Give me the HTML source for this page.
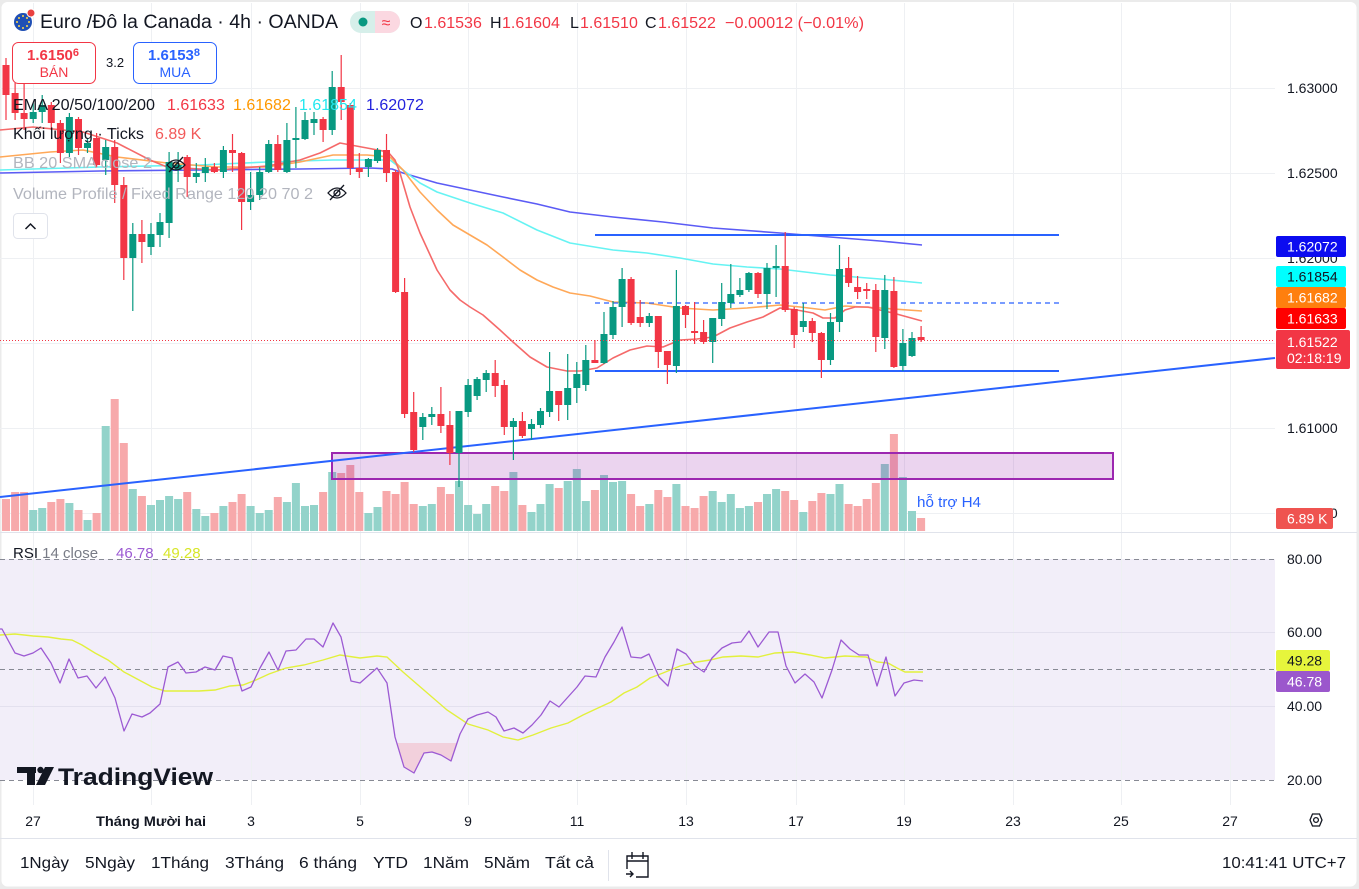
<!DOCTYPE html>
<html><head><meta charset="utf-8"><style>
html,body{margin:0;padding:0;background:#ebebeb;}
svg{display:block;font-family:"Liberation Sans","Noto Sans CJK JP",sans-serif;}
</style></head><body>
<svg width="1359" height="889" viewBox="0 0 1359 889" xmlns="http://www.w3.org/2000/svg">
<rect x="0" y="0" width="1359" height="889" fill="#ebebeb"/>
<rect x="1.5" y="2" width="1355" height="884.5" rx="6" fill="#ffffff"/>

<!-- RSI band -->
<rect x="0" y="559" width="1275" height="221" fill="#f2eef9"/>

<!-- grid -->
<g stroke="#eef0f3" stroke-width="1">
<path d="M0 88.5H1275M0 173.5H1275M0 258.5H1275M0 343.5H1275M0 428.5H1275M0 513.5H1275"/>
<path d="M33.5 3V805M151.5 3V805M251.5 3V805M360.5 3V805M468.5 3V805M577.5 3V805M686.5 3V805M796.5 3V805M904.5 3V805M1013.5 3V805M1121.5 3V805M1230.5 3V805"/>
</g>
<g stroke="#e3e0ee" stroke-width="1"><path d="M0 632.5H1275M0 706.5H1275"/></g>
<g stroke="#878a94" stroke-width="1" stroke-dasharray="5,4"><path d="M0 559.5H1275M0 669.5H1275M0 780.5H1275"/></g>

<!-- pane separators -->
<path d="M0 532.5H1357M0 838.5H1357" stroke="#e0e3eb" stroke-width="1"/>

<!-- volume bars -->
<g fill="#93d3ca">
<rect x="29.2" y="510" width="8" height="21"/><rect x="38.2" y="508" width="8" height="23"/><rect x="65.4" y="503" width="8" height="28"/><rect x="83.5" y="520" width="8" height="11"/><rect x="101.7" y="426" width="8" height="105"/><rect x="128.8" y="489" width="8" height="42"/><rect x="147" y="505" width="8" height="26"/><rect x="156" y="500" width="8" height="31"/><rect x="165.1" y="496" width="8" height="35"/><rect x="174.1" y="499" width="8" height="32"/><rect x="192.3" y="509" width="8" height="22"/><rect x="201.3" y="516" width="8" height="15"/><rect x="219.4" y="506" width="8" height="25"/><rect x="246.6" y="506" width="8" height="25"/><rect x="255.7" y="513" width="8" height="18"/><rect x="264.7" y="510" width="8" height="21"/><rect x="282.9" y="502" width="8" height="29"/><rect x="291.9" y="483" width="8" height="48"/><rect x="301" y="506" width="8" height="25"/><rect x="310" y="505" width="8" height="26"/><rect x="328.2" y="472" width="8" height="59"/><rect x="364.4" y="513" width="8" height="18"/><rect x="373.5" y="507" width="8" height="24"/><rect x="418.8" y="506" width="8" height="25"/><rect x="427.8" y="504" width="8" height="27"/><rect x="455" y="481" width="8" height="50"/><rect x="464.1" y="505" width="8" height="26"/><rect x="473.1" y="514" width="8" height="17"/><rect x="482.2" y="504" width="8" height="27"/><rect x="509.4" y="472" width="8" height="59"/><rect x="527.5" y="512" width="8" height="19"/><rect x="536.5" y="504" width="8" height="27"/><rect x="545.6" y="484" width="8" height="47"/><rect x="563.7" y="481" width="8" height="50"/><rect x="572.8" y="469" width="8" height="62"/><rect x="581.8" y="501" width="8" height="30"/><rect x="600" y="475" width="8" height="56"/><rect x="609" y="482" width="8" height="49"/><rect x="618.1" y="481" width="8" height="50"/><rect x="645.3" y="504" width="8" height="27"/><rect x="672.4" y="484" width="8" height="47"/><rect x="708.7" y="491" width="8" height="40"/><rect x="717.7" y="502" width="8" height="29"/><rect x="726.8" y="494" width="8" height="37"/><rect x="735.9" y="508" width="8" height="23"/><rect x="744.9" y="506" width="8" height="25"/><rect x="763" y="494" width="8" height="37"/><rect x="772.1" y="489" width="8" height="42"/><rect x="799.3" y="512" width="8" height="19"/><rect x="826.5" y="494" width="8" height="37"/><rect x="835.5" y="484" width="8" height="47"/><rect x="880.8" y="464" width="8" height="67"/><rect x="898.9" y="477" width="8" height="54"/><rect x="908" y="511" width="8" height="20"/>
</g>
<g fill="#f7a9ab">
<rect x="2" y="499" width="8" height="32"/><rect x="11.1" y="492" width="8" height="39"/><rect x="20.1" y="492" width="8" height="39"/><rect x="47.3" y="502" width="8" height="29"/><rect x="56.4" y="499" width="8" height="32"/><rect x="74.5" y="510" width="8" height="21"/><rect x="92.6" y="513" width="8" height="18"/><rect x="110.7" y="399" width="8" height="132"/><rect x="119.8" y="443" width="8" height="88"/><rect x="137.9" y="496" width="8" height="35"/><rect x="183.2" y="492" width="8" height="39"/><rect x="210.4" y="513" width="8" height="18"/><rect x="228.5" y="502" width="8" height="29"/><rect x="237.6" y="494" width="8" height="37"/><rect x="273.8" y="497" width="8" height="34"/><rect x="319.1" y="492" width="8" height="39"/><rect x="337.2" y="473" width="8" height="58"/><rect x="346.3" y="465" width="8" height="66"/><rect x="355.3" y="492" width="8" height="39"/><rect x="382.5" y="491" width="8" height="40"/><rect x="391.6" y="494" width="8" height="37"/><rect x="400.6" y="482" width="8" height="49"/><rect x="409.7" y="504" width="8" height="27"/><rect x="436.9" y="487" width="8" height="44"/><rect x="445.9" y="494" width="8" height="37"/><rect x="491.2" y="486" width="8" height="45"/><rect x="500.3" y="491" width="8" height="40"/><rect x="518.4" y="505" width="8" height="26"/><rect x="554.7" y="488" width="8" height="43"/><rect x="590.9" y="490" width="8" height="41"/><rect x="627.1" y="494" width="8" height="37"/><rect x="636.2" y="506" width="8" height="25"/><rect x="654.3" y="490" width="8" height="41"/><rect x="663.4" y="497" width="8" height="34"/><rect x="681.5" y="506" width="8" height="25"/><rect x="690.6" y="508" width="8" height="23"/><rect x="699.6" y="496" width="8" height="35"/><rect x="754" y="502" width="8" height="29"/><rect x="781.2" y="491" width="8" height="40"/><rect x="790.2" y="500" width="8" height="31"/><rect x="808.3" y="501" width="8" height="30"/><rect x="817.4" y="493" width="8" height="38"/><rect x="844.6" y="504" width="8" height="27"/><rect x="853.6" y="506" width="8" height="25"/><rect x="862.7" y="499" width="8" height="32"/><rect x="871.8" y="483" width="8" height="48"/><rect x="889.9" y="434" width="8" height="97"/><rect x="917.1" y="518" width="8" height="13"/>
</g>

<!-- purple zone -->
<rect x="332" y="453" width="781" height="26" fill="rgba(156,39,176,0.2)" stroke="#9c27b0" stroke-width="2"/>

<!-- EMAs -->
<g fill="none" stroke-width="1.6" stroke-linejoin="round">
<polyline stroke="#5b5bf5" points="0,173 100,171 200,170 300,169 370,168 392,169 403,173 437,183 470,190 503,197 537,204 570,212 613,217 663,222 713,228 780,233 830,237 880,241 922,245"/>
<polyline stroke="#66f3f3" points="0,170 100,167 200,165 267,162 333,160 390,160 403,170 420,183 437,192 470,203 503,213 537,230 570,243 613,250 647,253 680,258 713,264 747,267 780,269 830,275 880,279 922,283"/>
<polyline stroke="#ffa858" points="0,157 50,152 83,150 117,157 167,163 217,167 267,167 300,162 333,155 367,155 390,157 403,170 420,192 437,210 453,225 470,235 487,245 503,257 520,270 537,280 553,287 570,293 590,296 613,302 647,303 680,308 713,310 747,308 780,305 800,307 825,310 845,306 880,308 922,311"/>
<polyline stroke="#f56a6a" points="0,130 33,127 83,132 117,143 150,160 167,167 217,170 267,166 300,160 320,153 340,143 367,148 388,152 395,160 400,173 410,207 420,233 437,270 450,290 460,300 470,307 483,315 500,330 513,342 530,357 547,367 567,371 580,371 597,368 613,358 630,350 647,346 663,347 680,340 697,339 713,337 730,328 747,322 763,317 780,308 797,310 813,313 823,318 835,318 845,310 855,307 868,307 880,310 893,313 922,321"/>
</g>

<!-- drawn lines -->
<g stroke="#2962ff" fill="none">
<line x1="0" y1="497" x2="1275" y2="358" stroke-width="2"/>
<line x1="595" y1="235" x2="1059" y2="235" stroke-width="2"/>
<line x1="595" y1="371" x2="1059" y2="371" stroke-width="2"/>
<line x1="595" y1="303" x2="1059" y2="303" stroke-width="1.2" stroke-dasharray="5,4"/>
</g>

<!-- candles: wicks -->
<path fill="none" stroke="#089981" stroke-width="1.2" d="M33.2 103V123M42.2 95V123M69.4 113V157M87.5 138V153M105.7 140V175M132.8 223V311M151 223V255M160 213V247M169.1 152V238M178.1 152V182M196.3 163V183M205.3 158V182M223.4 146V178M250.6 172V210M259.7 167V200M268.7 140V173M286.9 123V173M295.9 107V168M305 112V140M314 112V135M332.2 71V135M368.4 158V177M377.5 148V163M422.8 413V440M431.8 407V425M459 411V487M468.1 379V417M477.1 377V400M486.2 370V392M513.4 418V460M531.5 419V440M540.5 408V428M549.6 352V417M567.7 354V420M576.8 362V403M585.8 345V391M604 312V364M613 301V339M622.1 268V327M649.3 313V327M676.4 270V373M712.7 318V363M721.7 283V326M730.8 264V308M739.9 278V297M748.9 272V292M767 263V309M776.1 245V297M803.3 303V332M830.5 313V365M839.5 245V332M884.8 275V349M902.9 329V371M912 332V357"/>
<path fill="none" stroke="#f23645" stroke-width="1.2" d="M6 58V120M15.1 83V120M24.1 83V130M51.3 102V130M60.4 120V163M78.5 117V155M96.6 133V167M114.7 140V203M123.8 177V280M141.9 220V263M187.2 155V197M214.4 163V173M232.5 134V172M241.6 152V230M277.8 135V172M323.1 117V142M341.2 55V120M350.3 103V175M359.3 153V178M386.5 134V182M395.6 170V293M404.6 278V418M413.7 392V452M440.9 387V433M449.9 411V465M495.2 360V397M504.3 380V435M522.4 412V438M558.7 391V421M594.9 340V363M631.1 277V325M640.2 300V327M658.3 316V368M667.4 351V384M685.5 305V328M694.6 302V344M703.6 320V344M758 272V298M785.2 232V312M794.2 307V348M812.3 318V342M821.4 332V378M848.6 257V287M857.6 276V299M866.7 283V299M875.8 284V352M893.9 277V368M921.1 326V342"/>
<!-- candles: bodies -->
<g fill="#089981">
<rect x="29.7" y="112" width="7" height="7"/><rect x="38.7" y="105" width="7" height="7"/><rect x="65.9" y="117" width="7" height="36"/><rect x="84" y="143" width="7" height="5"/><rect x="102.2" y="147" width="7" height="13"/><rect x="129.3" y="234" width="7" height="24"/><rect x="147.5" y="234" width="7" height="13"/><rect x="156.5" y="222" width="7" height="13"/><rect x="165.6" y="162" width="7" height="61"/><rect x="174.6" y="165" width="7" height="5"/><rect x="192.8" y="173" width="7" height="4"/><rect x="201.8" y="167" width="7" height="6"/><rect x="219.9" y="150" width="7" height="22"/><rect x="247.1" y="195" width="7" height="7"/><rect x="256.2" y="172" width="7" height="23"/><rect x="265.2" y="144" width="7" height="28"/><rect x="283.4" y="140" width="7" height="32"/><rect x="292.4" y="138" width="7" height="2"/><rect x="301.5" y="120" width="7" height="19"/><rect x="310.5" y="119" width="7" height="4"/><rect x="328.7" y="87" width="7" height="43"/><rect x="364.9" y="159" width="7" height="8"/><rect x="374" y="150" width="7" height="11"/><rect x="419.3" y="417" width="7" height="10"/><rect x="428.3" y="414" width="7" height="3"/><rect x="455.5" y="411" width="7" height="42"/><rect x="464.6" y="385" width="7" height="27"/><rect x="473.6" y="379" width="7" height="17"/><rect x="482.7" y="373" width="7" height="7"/><rect x="509.9" y="421" width="7" height="6"/><rect x="528" y="424" width="7" height="5"/><rect x="537" y="411" width="7" height="14"/><rect x="546.1" y="391" width="7" height="21"/><rect x="564.2" y="388" width="7" height="17"/><rect x="573.3" y="374" width="7" height="14"/><rect x="582.3" y="360" width="7" height="25"/><rect x="600.5" y="334" width="7" height="29"/><rect x="609.5" y="307" width="7" height="28"/><rect x="618.6" y="279" width="7" height="28"/><rect x="645.8" y="316" width="7" height="7"/><rect x="672.9" y="306" width="7" height="60"/><rect x="709.2" y="318" width="7" height="24"/><rect x="718.2" y="302" width="7" height="17"/><rect x="727.3" y="294" width="7" height="9"/><rect x="736.4" y="290" width="7" height="5"/><rect x="745.4" y="273" width="7" height="17"/><rect x="763.5" y="268" width="7" height="26"/><rect x="772.6" y="266" width="7" height="2"/><rect x="799.8" y="321" width="7" height="6"/><rect x="827" y="322" width="7" height="38"/><rect x="836" y="269" width="7" height="53"/><rect x="881.3" y="290" width="7" height="48"/><rect x="899.4" y="343" width="7" height="23"/><rect x="908.5" y="338" width="7" height="18"/>
</g>
<g fill="#f23645">
<rect x="2.5" y="65" width="7" height="30"/><rect x="11.6" y="93" width="7" height="20"/><rect x="20.6" y="113" width="7" height="6"/><rect x="47.8" y="105" width="7" height="18"/><rect x="56.9" y="123" width="7" height="30"/><rect x="75" y="119" width="7" height="29"/><rect x="93.1" y="138" width="7" height="27"/><rect x="111.2" y="147" width="7" height="38"/><rect x="120.3" y="185" width="7" height="73"/><rect x="138.4" y="234" width="7" height="8"/><rect x="183.7" y="157" width="7" height="20"/><rect x="210.9" y="167" width="7" height="5"/><rect x="229" y="150" width="7" height="3"/><rect x="238.1" y="153" width="7" height="49"/><rect x="274.3" y="144" width="7" height="26"/><rect x="319.6" y="119" width="7" height="11"/><rect x="337.7" y="87" width="7" height="15"/><rect x="346.8" y="105" width="7" height="63"/><rect x="355.8" y="168" width="7" height="4"/><rect x="383" y="150" width="7" height="23"/><rect x="392.1" y="172" width="7" height="120"/><rect x="401.1" y="292" width="7" height="122"/><rect x="410.2" y="412" width="7" height="38"/><rect x="437.4" y="414" width="7" height="12"/><rect x="446.4" y="425" width="7" height="28"/><rect x="491.7" y="373" width="7" height="13"/><rect x="500.8" y="385" width="7" height="42"/><rect x="518.9" y="421" width="7" height="15"/><rect x="555.2" y="391" width="7" height="14"/><rect x="591.4" y="360" width="7" height="3"/><rect x="627.6" y="279" width="7" height="44"/><rect x="636.7" y="317" width="7" height="6"/><rect x="654.8" y="316" width="7" height="36"/><rect x="663.9" y="351" width="7" height="14"/><rect x="682" y="306" width="7" height="9"/><rect x="691.1" y="331" width="7" height="2"/><rect x="700.1" y="332" width="7" height="10"/><rect x="754.5" y="273" width="7" height="21"/><rect x="781.7" y="266" width="7" height="44"/><rect x="790.7" y="309" width="7" height="26"/><rect x="808.8" y="321" width="7" height="12"/><rect x="817.9" y="333" width="7" height="27"/><rect x="845.1" y="268" width="7" height="15"/><rect x="854.1" y="287" width="7" height="5"/><rect x="863.2" y="289" width="7" height="2"/><rect x="872.3" y="290" width="7" height="47"/><rect x="890.4" y="291" width="7" height="76"/><rect x="917.6" y="337" width="7" height="3"/>
</g>

<!-- current price line -->
<line x1="0" y1="340.5" x2="1275" y2="340.5" stroke="#f23645" stroke-width="1" stroke-dasharray="1,2"/>

<text x="917" y="507" font-size="15" fill="#2962ff" textLength="64" lengthAdjust="spacingAndGlyphs">hỗ trợ H4</text>

<!-- RSI -->
<polygon points="396.8,743 404,767 414,773 424,753 432,752 441,755 451,761 457,743" fill="rgba(242,54,69,0.16)"/>
<polyline fill="none" stroke="#e2f03c" stroke-width="1.4" points="0,635 15,634 33,636 48,637 61,639 72,640 82,645 95,653 108,660 124,672 139,680 152,687 165,691 182,691 199,691 215,690 230,686 243,685 256,680 269,674 286,668 304,665 323,660 340,655 360,658 377,656 387,657 403,672 425,691 447,710 468,724 488,730 503,737 518,740 533,735 551,728 568,723 583,715 598,708 611,702 624,693 637,687 650,678 663,673 680,666 697,662 710,660 723,657 741,656 758,657 775,653 793,652 810,655 825,658 845,656 866,657 877,662 888,663 897,668 905,672 923,672"/>
<polyline fill="none" stroke="#9c5ad3" stroke-width="1.3" stroke-linejoin="round" points="0,629 2,629 15,653 24,656 33,653 41,648 51,663 60,683 69,659 78,678 87,676 96,688 105,677 115,698 124,731 132,714 142,717 150,713 160,704 168,667 178,662 186,673 196,672 205,667 215,670 223,656 232,658 242,691 251,687 260,668 269,652 278,670 286,651 296,650 306,639 314,639 323,647 333,623 341,637 351,681 360,683 369,675 377,668 387,683 395,737 404,767 414,773 424,753 432,752 441,755 451,761 460,734 468,719 477,715 488,712 496,717 504,731 514,728 523,733 532,725 541,715 550,701 559,707 568,697 577,687 585,676 596,677 605,657 614,642 622,627 631,657 641,658 649,654 659,677 668,686 677,649 686,654 695,666 704,672 712,658 722,648 732,643 741,642 749,631 758,647 769,632 778,632 786,666 795,683 805,674 814,682 822,698 832,670 841,640 850,649 859,655 868,655 877,686 886,657 895,696 904,683 914,680 923,681"/>

<!-- TradingView logo -->
<g fill="#131722">
<rect x="17" y="767" width="19" height="6"/>
<rect x="27" y="767" width="8" height="18"/>
<circle cx="40.5" cy="770" r="3.2"/>
<polygon points="45,767 54,767 45,785 36,785"/>
</g>
<text x="58" y="785" font-size="24" font-weight="bold" fill="#131722" textLength="155" lengthAdjust="spacingAndGlyphs">TradingView</text>

<!-- RSI legend -->
<text x="13" y="558" font-size="15"><tspan fill="#131722">RSI</tspan><tspan fill="#787b86"> 14 close</tspan><tspan fill="#9c5ad3" x="116">46.78</tspan><tspan fill="#d7e627" x="163">49.28</tspan></text>

<!-- Price axis -->
<g font-size="14" fill="#131722">
<text x="1287" y="93">1.63000</text>
<text x="1287" y="178">1.62500</text>
<text x="1287" y="263">1.62000</text>
<text x="1287" y="433">1.61000</text>
<text x="1287" y="518">1.60500</text>
<text x="1287" y="564">80.00</text>
<text x="1287" y="637">60.00</text>
<text x="1287" y="711">40.00</text>
<text x="1287" y="785">20.00</text>
</g>
<g font-size="14">
<rect x="1276" y="236" width="70" height="21" rx="2" fill="#0c0cf0"/><text x="1287" y="251.5" fill="#fff">1.62072</text>
<rect x="1276" y="266" width="70" height="21" rx="2" fill="#00ffff"/><text x="1287" y="281.5" fill="#131722">1.61854</text>
<rect x="1276" y="287" width="70" height="21" rx="2" fill="#ff7f0e"/><text x="1287" y="302.5" fill="#fff">1.61682</text>
<rect x="1276" y="308" width="70" height="21" rx="2" fill="#ff0000"/><text x="1287" y="323.5" fill="#fff">1.61633</text>
<rect x="1276" y="330" width="74" height="39" rx="2" fill="#f23645"/><text x="1287" y="347" fill="#fff">1.61522</text><text x="1287" y="363" fill="#fff">02:18:19</text>
<rect x="1276" y="508" width="57" height="21" rx="2" fill="#ef5350"/><text x="1287" y="523.5" fill="#fff">6.89 K</text>
<rect x="1276" y="650" width="54" height="21" rx="2" fill="#e6f53c"/><text x="1287" y="665.5" fill="#131722">49.28</text>
<rect x="1276" y="671" width="54" height="21" rx="2" fill="#9b57cc"/><text x="1287" y="686.5" fill="#fff">46.78</text>
</g>

<!-- time axis -->
<g font-size="14" fill="#131722" text-anchor="middle">
<text x="33" y="826">27</text>
<text x="151" y="826" font-weight="bold" font-size="13.5" textLength="110" lengthAdjust="spacingAndGlyphs">Tháng Mười hai</text>
<text x="251" y="826">3</text>
<text x="360" y="826">5</text>
<text x="468" y="826">9</text>
<text x="577" y="826">11</text>
<text x="686" y="826">13</text>
<text x="796" y="826">17</text>
<text x="904" y="826">19</text>
<text x="1013" y="826">23</text>
<text x="1121" y="826">25</text>
<text x="1230" y="826">27</text>
</g>
<!-- settings hexagon -->
<polygon points="1311,820 1313.5,814 1320.5,814 1323,820 1320.5,826 1313.5,826" fill="none" stroke="#131722" stroke-width="1.3" transform="translate(-1,0)"/>
<circle cx="1316" cy="820" r="2.4" fill="none" stroke="#131722" stroke-width="1.3"/>

<!-- bottom toolbar -->
<g font-size="16" fill="#131722">
<text x="20" y="868" textLength="49" lengthAdjust="spacingAndGlyphs">1Ngày</text>
<text x="85" y="868" textLength="50" lengthAdjust="spacingAndGlyphs">5Ngày</text>
<text x="151" y="868" textLength="58" lengthAdjust="spacingAndGlyphs">1Tháng</text>
<text x="225" y="868" textLength="59" lengthAdjust="spacingAndGlyphs">3Tháng</text>
<text x="299" y="868" textLength="58" lengthAdjust="spacingAndGlyphs">6 tháng</text>
<text x="373" y="868" textLength="35" lengthAdjust="spacingAndGlyphs">YTD</text>
<text x="423" y="868" textLength="46" lengthAdjust="spacingAndGlyphs">1Năm</text>
<text x="484" y="868" textLength="46" lengthAdjust="spacingAndGlyphs">5Năm</text>
<text x="545" y="868" textLength="49" lengthAdjust="spacingAndGlyphs">Tất cả</text>
<text x="1222" y="868" textLength="124" lengthAdjust="spacingAndGlyphs">10:41:41 UTC+7</text>
</g>
<line x1="608.5" y1="850" x2="608.5" y2="881" stroke="#e0e3eb"/>
<g fill="none" stroke="#131722" stroke-width="1.4">
<path d="M632 856H648V877H636M627 869V856H632M632 852V859M643 852V859M627 861H648"/>
<path d="M626 874H633M630 871L633 874L630 877"/>
</g>

<!-- Header -->
<circle cx="23" cy="22" r="9" fill="#1f4fb5"/>
<g fill="#ffd84a"><circle cx="23" cy="16" r="1"/><circle cx="27" cy="18" r="1"/><circle cx="29" cy="22" r="1"/><circle cx="27" cy="26" r="1"/><circle cx="23" cy="28" r="1"/><circle cx="19" cy="26" r="1"/><circle cx="17" cy="22" r="1"/><circle cx="19" cy="18" r="1"/></g>
<circle cx="31" cy="13" r="4.5" fill="#fff"/><circle cx="31" cy="13" r="3.5" fill="#e94040"/>
<text x="40" y="28" font-size="19" fill="#131722" textLength="298" lengthAdjust="spacingAndGlyphs">Euro /Đô la Canada · 4h · OANDA</text>
<rect x="350" y="11" width="50" height="22" rx="11" fill="#d6efea"/>
<path d="M375 11H389A11 11 0 0 1 389 33H375Z" fill="#fbd8e1"/>
<circle cx="363" cy="22" r="4.5" fill="#089981"/>
<text x="386" y="28" font-size="16" fill="#f23645" text-anchor="middle">≈</text>
<g font-size="16">
<text x="410" y="28" fill="#131722">O</text><text x="424" y="28" fill="#f23645">1.61536</text>
<text x="490" y="28" fill="#131722">H</text><text x="502" y="28" fill="#f23645">1.61604</text>
<text x="570" y="28" fill="#131722">L</text><text x="580" y="28" fill="#f23645">1.61510</text>
<text x="645" y="28" fill="#131722">C</text><text x="658" y="28" fill="#f23645">1.61522</text>
<text x="725" y="28" fill="#f23645" textLength="139" lengthAdjust="spacingAndGlyphs">−0.00012 (−0.01%)</text>
</g>

<!-- buy/sell -->
<rect x="12.5" y="42.5" width="83" height="41" rx="6" fill="#fff" stroke="#f23645"/>
<text x="27" y="60" font-size="15" font-weight="bold" fill="#f23645">1.6150<tspan font-size="11" dy="-4">6</tspan></text>
<text x="54" y="77" font-size="14" fill="#f23645" text-anchor="middle">BÁN</text>
<text x="106" y="67" font-size="13" fill="#131722">3.2</text>
<rect x="133.5" y="42.5" width="83" height="41" rx="6" fill="#fff" stroke="#2962ff"/>
<text x="148" y="60" font-size="15" font-weight="bold" fill="#2962ff">1.6153<tspan font-size="11" dy="-4">8</tspan></text>
<text x="175" y="77" font-size="14" fill="#2962ff" text-anchor="middle">MUA</text>

<!-- legends -->
<g font-size="16">
<text x="13" y="110" fill="#131722" textLength="142" lengthAdjust="spacingAndGlyphs">EMA 20/50/100/200</text>
<text x="167" y="110" fill="#f23645">1.61633</text>
<text x="233" y="110" fill="#ff9800">1.61682</text>
<text x="299" y="110" fill="#22e8f0">1.61854</text>
<text x="366" y="110" fill="#2323dd">1.62072</text>
<text x="13" y="139" fill="#131722" textLength="131" lengthAdjust="spacingAndGlyphs">Khối lượng · Ticks</text>
<text x="155" y="139" fill="#f25a5a">6.89 K</text>
<text x="13" y="168" fill="#b2b5be" textLength="139" lengthAdjust="spacingAndGlyphs">BB 20 SMA close 2</text>
<text x="13" y="199" fill="#b2b5be" textLength="300" lengthAdjust="spacingAndGlyphs">Volume Profile / Fixed Range 120 20 70 2</text>
</g>
<g fill="none" stroke="#131722" stroke-width="1.3">
<path d="M167 165Q176 155 185 165Q176 175 167 165Z"/><circle cx="176" cy="165" r="3"/><path d="M169 172L183 157"/>
<path d="M328 193Q337 183 346 193Q337 203 328 193Z"/><circle cx="337" cy="193" r="3"/><path d="M330 200L344 185"/>
</g>
<rect x="13.5" y="213.5" width="34" height="25" rx="4" fill="#fff" stroke="#e0e3eb"/>
<path d="M25.5 229L30.5 224L35.5 229" fill="none" stroke="#131722" stroke-width="1.5"/>
</svg>
</body></html>
